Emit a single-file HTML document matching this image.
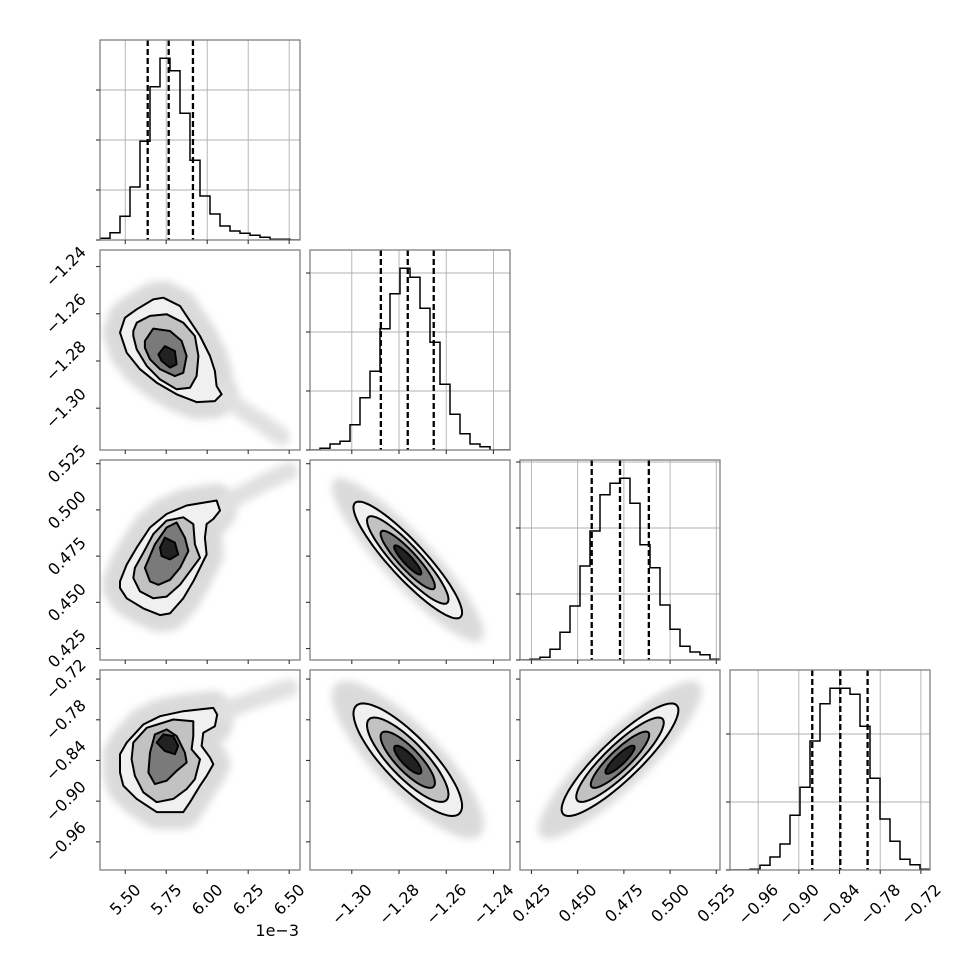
<!DOCTYPE html>
<html><head><meta charset="utf-8"><style>
html,body{margin:0;padding:0;background:#fff;}
svg{display:block;font-family:"DejaVu Sans","Liberation Sans",sans-serif;}
</style></head><body>
<svg id="chart" width="970" height="970" viewBox="0 0 970 970" xmlns="http://www.w3.org/2000/svg">
<defs><filter id="blur" x="-30%" y="-30%" width="160%" height="160%"><feGaussianBlur stdDeviation="4"/></filter></defs>
<text x="299" y="936" font-size="16" text-anchor="end" fill="#000">1e−3</text>
</svg>
<script>
// ---- data ----
const histCounts0 = [5,22,71,159,296,460,545,508,380,239,132,78,42,27,20,14,8,2,2,0];
const histCounts1 = [0,5,18,26,76,157,236,364,469,545,518,425,323,197,107,49,18,10,0,0];
const histCounts2 = [0,2,8,32,83,162,282,387,496,530,545,470,346,277,165,92,41,24,16,2];
const histCounts3 = [0,0,2,14,39,78,164,248,387,499,545,545,527,431,275,153,86,32,16,2];
const quant0 = [5.637,5.765,5.913];
const quant1 = [-1.2877,-1.2763,-1.2653];
const quant2 = [0.4576,0.4729,0.4885];
const quant3 = [-0.8802,-0.8389,-0.7986];
const histTicks0 = [0,150,300,450];
const histTicks1 = [0,177,354,531];
const histTicks2 = [0,198,396,594];
const histTicks3 = [0,204,408];
const tickVals0 = [5.50,5.75,6.00,6.25,6.50];
const tickVals1 = [-1.30,-1.28,-1.26,-1.24];
const tickVals2 = [0.425,0.450,0.475,0.500,0.525];
const tickVals3 = [-0.96,-0.90,-0.84,-0.78,-0.72];
const tickLabels0 = ["5.50","5.75","6.00","6.25","6.50"];
const tickLabels1 = ["−1.30","−1.28","−1.26","−1.24"];
const tickLabels2 = ["0.425","0.450","0.475","0.500","0.525"];
const tickLabels3 = ["−0.96","−0.90","−0.84","−0.78","−0.72"];
const means = [5.765,-1.2763,0.4729,-0.8389];
const sigmas = [0.138,0.0115,0.0158,0.0415];
const rhoR2C1 = -0.90;
const rhoR3C1 = -0.82;
const rhoR3C2 = 0.88;
const levelRadii = [2.0,1.5,1.0,0.5];
const r1c0Levels = [
 [[5.468,-1.2680],[5.498,-1.2617],[5.570,-1.2581],[5.671,-1.2539],[5.732,-1.2532],[5.834,-1.2567],[5.895,-1.2631],[5.956,-1.2694],[6.017,-1.2779],[6.047,-1.2843],[6.057,-1.2906],[6.088,-1.2941],[6.047,-1.2970],[5.935,-1.2974],[5.813,-1.2941],[5.692,-1.2892],[5.590,-1.2835],[5.509,-1.2765]],
 [[5.549,-1.2673],[5.570,-1.2638],[5.651,-1.2609],[5.752,-1.2602],[5.854,-1.2638],[5.925,-1.2694],[5.946,-1.2779],[5.935,-1.2864],[5.895,-1.2913],[5.813,-1.2920],[5.712,-1.2878],[5.631,-1.2821],[5.570,-1.2751],[5.549,-1.2694]],
 [[5.620,-1.2715],[5.671,-1.2663],[5.773,-1.2673],[5.844,-1.2715],[5.874,-1.2779],[5.854,-1.2850],[5.803,-1.2864],[5.712,-1.2835],[5.651,-1.2793],[5.620,-1.2744]],
 [[5.702,-1.2772],[5.742,-1.2737],[5.803,-1.2758],[5.813,-1.2814],[5.773,-1.2828],[5.722,-1.2800]]
];
const r2c0Levels = [
 [[5.468,0.4613],[5.509,0.4704],[5.570,0.4796],[5.651,0.4905],[5.752,0.4978],[5.874,0.5024],[6.057,0.5051],[6.078,0.4996],[6.037,0.4951],[5.996,0.4923],[5.986,0.4850],[5.996,0.4759],[5.956,0.4686],[5.915,0.4613],[5.854,0.4522],[5.773,0.4440],[5.712,0.4431],[5.610,0.4467],[5.509,0.4522],[5.468,0.4577]],
 [[5.559,0.4686],[5.610,0.4768],[5.671,0.4869],[5.752,0.4942],[5.854,0.4960],[5.915,0.4923],[5.925,0.4814],[5.956,0.4741],[5.895,0.4668],[5.834,0.4595],[5.752,0.4531],[5.671,0.4522],[5.590,0.4559],[5.549,0.4632]],
 [[5.620,0.4686],[5.681,0.4814],[5.752,0.4905],[5.813,0.4932],[5.864,0.4850],[5.885,0.4777],[5.834,0.4686],[5.773,0.4622],[5.702,0.4595],[5.651,0.4613]],
 [[5.712,0.4796],[5.742,0.4850],[5.803,0.4823],[5.823,0.4759],[5.773,0.4732],[5.722,0.4750]]
];
const r3c0Levels = [
 [[5.468,-0.8308],[5.509,-0.8137],[5.610,-0.7869],[5.712,-0.7747],[5.854,-0.7674],[6.037,-0.7625],[6.061,-0.7723],[6.047,-0.7894],[5.976,-0.7991],[5.966,-0.8187],[6.017,-0.8357],[6.037,-0.8455],[5.997,-0.8626],[5.956,-0.8772],[5.895,-0.9016],[5.854,-0.9162],[5.692,-0.9162],[5.570,-0.8967],[5.488,-0.8772],[5.468,-0.8577]],
 [[5.539,-0.8382],[5.549,-0.8137],[5.631,-0.7918],[5.793,-0.7796],[5.915,-0.7821],[5.915,-0.8040],[5.905,-0.8235],[5.956,-0.8382],[5.925,-0.8675],[5.875,-0.8821],[5.793,-0.8967],[5.692,-0.9016],[5.610,-0.8869],[5.559,-0.8626]],
 [[5.641,-0.8577],[5.651,-0.8284],[5.681,-0.8016],[5.753,-0.7942],[5.814,-0.8040],[5.864,-0.8284],[5.875,-0.8430],[5.814,-0.8552],[5.753,-0.8699],[5.681,-0.8748]],
 [[5.692,-0.8137],[5.732,-0.8016],[5.793,-0.8040],[5.823,-0.8187],[5.803,-0.8308],[5.742,-0.8260]]
];
const r1c0Tail = [[6.05,-1.292],[6.2,-1.300],[6.35,-1.307],[6.45,-1.312]];
const r2c0Tail = [[6.05,0.499],[6.2,0.508],[6.35,0.515],[6.5,0.521]];
const r3c0Tail = [[6.05,-0.772],[6.2,-0.758],[6.35,-0.745],[6.5,-0.733]];

// ---- drawing ----
const NS='http://www.w3.org/2000/svg';
const svg=document.getElementById('chart');
const defs=svg.querySelector('defs');
const X0=[100,310,520,730], Y0=[40,250,460,670], S=200;
const ranges=[[5.346,6.566],[-1.3177,-1.2330],[0.4188,0.5270],[-1.0015,-0.7066]];
const histCounts=[histCounts0,histCounts1,histCounts2,histCounts3];
const quants=[quant0,quant1,quant2,quant3];
const histTicks=[histTicks0,histTicks1,histTicks2,histTicks3];
const tickVals=[tickVals0,tickVals1,tickVals2,tickVals3];
const tickLabels=[tickLabels0,tickLabels1,tickLabels2,tickLabels3];
const HMAX=600;
const FS=16;
const fills=['#f0f0f0','#c2c2c2','#7a7a7a','#222222'];
function sx(c,v){return X0[c]+(v-ranges[c][0])/(ranges[c][1]-ranges[c][0])*S;}
function sy(r,v){return Y0[r]+S-(v-ranges[r][0])/(ranges[r][1]-ranges[r][0])*S;}
function hy(r,v){return Y0[r]+S-v/HMAX*S;}
function mk(tag,parent){const e=document.createElementNS(NS,tag);parent.appendChild(e);return e;}
function ptsStr(pts,r,c){return pts.map(p=>sx(c,p[0]).toFixed(1)+','+sy(r,p[1]).toFixed(1)).join(' ');}
function ellipsePts(c,r,rho,k){
  const out=[];
  for(let i=0;i<72;i++){const t=i/72*2*Math.PI;
    out.push([means[c]+sigmas[c]*k*Math.cos(t), means[r]+sigmas[r]*k*(rho*Math.cos(t)+Math.sqrt(1-rho*rho)*Math.sin(t))]);}
  return out;
}
function clipFor(r,c){
  const cp=mk('clipPath',defs); cp.setAttribute('id','clip'+r+c);
  const rc=mk('rect',cp); rc.setAttribute('x',X0[c]); rc.setAttribute('y',Y0[r]); rc.setAttribute('width',S); rc.setAttribute('height',S);
}
function frame(g,r,c){
  const f=mk('rect',g);
  
  
  f.setAttribute('x',X0[c]); f.setAttribute('y',Y0[r]); f.setAttribute('width',S); f.setAttribute('height',S);
  f.setAttribute('fill','none'); f.setAttribute('stroke','#808080'); f.setAttribute('stroke-width','1.3');
}
function xTicks(g,r,c,withLabels){
  tickVals[c].forEach((v,i)=>{
    const x=sx(c,v), yb=Y0[r]+S;
    const t=mk('line',g);
    
    
    t.setAttribute('x1',x); t.setAttribute('x2',x); t.setAttribute('y1',yb); t.setAttribute('y2',yb+4);
    t.setAttribute('stroke','#333'); t.setAttribute('stroke-width','1.1');
    if(withLabels){
      const tx=mk('text',g);
      
      
      tx.textContent=tickLabels[c][i];
      tx.setAttribute('font-size',FS); tx.setAttribute('text-anchor','middle'); tx.setAttribute('dominant-baseline','central');
      const w=tx.getComputedTextLength? tx.getComputedTextLength():tickLabels[c][i].length*9.5;
      const ext=(w+11)*0.7071/2;
      const cy=yb+13+ext;
      tx.setAttribute('x',x); tx.setAttribute('y',cy);
      tx.setAttribute('transform','rotate(-45 '+x+' '+cy+')');
    }
  });
}
function yTicksParam(g,r,c,withLabels){
  tickVals[r].forEach((v,i)=>{
    const y=sy(r,v), xl=X0[c];
    if(y<Y0[r]-0.5||y>Y0[r]+S+0.5) return;
    const t=mk('line',g);
    
    
    t.setAttribute('x1',xl-4); t.setAttribute('x2',xl); t.setAttribute('y1',y); t.setAttribute('y2',y);
    t.setAttribute('stroke','#333'); t.setAttribute('stroke-width','1.1');
    if(withLabels){
      const tx=mk('text',g);
      
      
      tx.textContent=tickLabels[r][i];
      tx.setAttribute('font-size',FS); tx.setAttribute('text-anchor','middle'); tx.setAttribute('dominant-baseline','central');
      const w=tx.getComputedTextLength? tx.getComputedTextLength():tickLabels[r][i].length*9.5;
      const ext=(w+11)*0.7071/2;
      const cx=xl-13-ext;
      tx.setAttribute('x',cx); tx.setAttribute('y',y);
      tx.setAttribute('transform','rotate(-45 '+cx+' '+y+')');
    }
  });
}
// diagonal histograms
for(let d=0;d<4;d++){
  const g=mk('g',svg);
  
  
  clipFor(d,d);
  const gg=mk('g',g); gg.setAttribute('clip-path','url(#clip'+d+d+')');
  histTicks[d].forEach(v=>{ if(v===0) return;
    const l=mk('line',gg);
    
    
    l.setAttribute('x1',X0[d]); l.setAttribute('x2',X0[d]+S); l.setAttribute('y1',hy(d,v)); l.setAttribute('y2',hy(d,v));
    l.setAttribute('stroke','#b0b0b0'); l.setAttribute('stroke-width','0.9');
  });
  tickVals[d].forEach(v=>{
    const l=mk('line',gg);
    
    
    l.setAttribute('x1',sx(d,v)); l.setAttribute('x2',sx(d,v)); l.setAttribute('y1',Y0[d]); l.setAttribute('y2',Y0[d]+S);
    l.setAttribute('stroke','#b0b0b0'); l.setAttribute('stroke-width','0.9');
  });
  const counts=histCounts[d], n=counts.length, bw=(ranges[d][1]-ranges[d][0])/n;
  let dstr='M'+sx(d,ranges[d][0])+','+hy(d,0);
  counts.forEach((v,i)=>{const xa=sx(d,ranges[d][0]+i*bw), xb=sx(d,ranges[d][0]+(i+1)*bw);
    dstr+=' L'+xa.toFixed(1)+','+hy(d,v).toFixed(1)+' L'+xb.toFixed(1)+','+hy(d,v).toFixed(1);});
  dstr+=' L'+sx(d,ranges[d][1])+','+hy(d,0);
  const p=mk('path',gg);
  
  
  p.setAttribute('d',dstr); p.setAttribute('fill','none'); p.setAttribute('stroke','#000'); p.setAttribute('stroke-width','1.5');
  quants[d].forEach(q=>{
    const l=mk('line',gg);
    
    
    l.setAttribute('x1',sx(d,q)); l.setAttribute('x2',sx(d,q)); l.setAttribute('y1',Y0[d]); l.setAttribute('y2',Y0[d]+S);
    l.setAttribute('stroke','#000'); l.setAttribute('stroke-width','2.3'); l.setAttribute('stroke-dasharray','6,3');
  });
  frame(g,d,d);
  xTicks(g,d,d,d===3);
  histTicks[d].forEach(v=>{
    const t=mk('line',g);
    
    
    t.setAttribute('x1',X0[d]-4); t.setAttribute('x2',X0[d]); t.setAttribute('y1',hy(d,v)); t.setAttribute('y2',hy(d,v));
    t.setAttribute('stroke','#333'); t.setAttribute('stroke-width','1.1');
  });
}
// 2D panels
const col0Levels={1:r1c0Levels,2:r2c0Levels,3:r3c0Levels};
const col0Tails={1:r1c0Tail,2:r2c0Tail,3:r3c0Tail};
const rhos={'21':rhoR2C1,'31':rhoR3C1,'32':rhoR3C2};
for(let r=1;r<4;r++){
  for(let c=0;c<r;c++){
    const g=mk('g',svg);
    
    
    clipFor(r,c);
    const gg=mk('g',g); gg.setAttribute('clip-path','url(#clip'+r+c+')');
    let levels;
    const halo=mk('g',gg);
    
    
    halo.setAttribute('filter','url(#blur)'); halo.setAttribute('opacity','0.38');
    if(c===0){
      levels=col0Levels[r];
      const hp=mk('polygon',halo);
      hp.setAttribute('points',ptsStr(levels[0],r,c));
      hp.setAttribute('fill','#a0a0a0'); hp.setAttribute('stroke','#a0a0a0'); hp.setAttribute('stroke-width','34'); hp.setAttribute('stroke-linejoin','round');
      const tl=mk('polyline',halo);
      tl.setAttribute('points',ptsStr(col0Tails[r],r,c));
      tl.setAttribute('fill','none'); tl.setAttribute('stroke','#b0b0b0'); tl.setAttribute('stroke-width','18'); tl.setAttribute('stroke-linecap','round');
    } else {
      const rho=rhos[''+r+c];
      levels=levelRadii.map(k=>ellipsePts(c,r,rho,k));
      const hp=mk('polygon',halo);
      hp.setAttribute('points',ptsStr(ellipsePts(c,r,rho,2.8),r,c));
      hp.setAttribute('fill','#a0a0a0');
    }
    levels.forEach((lv,i)=>{
      const pf=mk('polygon',gg);
      
      
      pf.setAttribute('points',ptsStr(lv,r,c)); pf.setAttribute('fill',fills[i]);
    });
    levels.forEach((lv,i)=>{
      const pc=mk('polygon',gg);
      
      
      pc.setAttribute('points',ptsStr(lv,r,c)); pc.setAttribute('fill','none');
      pc.setAttribute('stroke','#000'); pc.setAttribute('stroke-width','2'); pc.setAttribute('stroke-linejoin','round');
    });
    frame(g,r,c);
    xTicks(g,r,c,r===3);
    yTicksParam(g,r,c,c===0);
  }
}
</script>
</body></html>
